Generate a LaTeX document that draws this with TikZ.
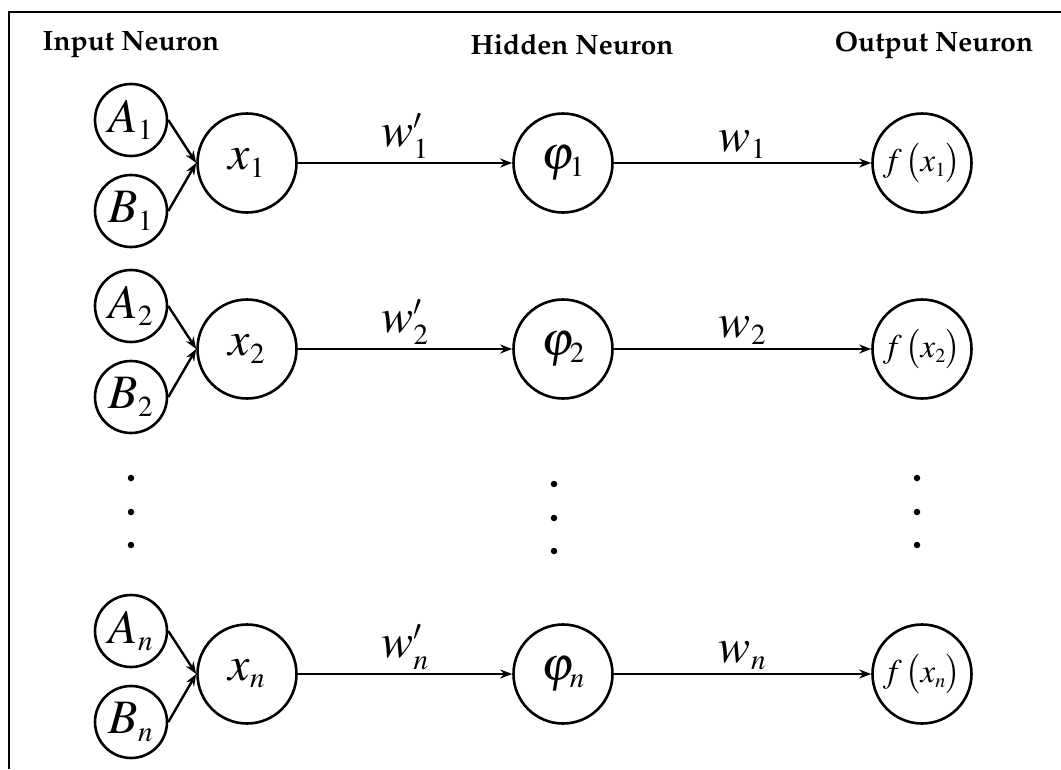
\documentclass[tikz,border=0pt]{standalone}
\usepackage[T1]{fontenc}
\usepackage{mathptmx}
\renewcommand{\rmdefault}{ppl}
\usetikzlibrary{arrows.meta}

% smaller script sizes for the large formula sizes
\DeclareMathSizes{48}{48}{29}{22}
\DeclareMathSizes{33}{33}{20}{15}

\tikzset{
  neuron/.style={circle, draw, line width=2.6pt, inner sep=0pt},
  inneuron/.style={neuron, minimum size=72pt, font=\fontsize{48}{52}\selectfont},
  mainneuron/.style={neuron, minimum size=99pt, font=\fontsize{48}{52}\selectfont},
  outneuron/.style={neuron, minimum size=99pt, font=\fontsize{33}{36}\selectfont},
  link/.style={line width=2.4pt, -{Stealth[length=12pt, width=9pt]}},
  weight/.style={midway, above, inner sep=3pt, font=\fontsize{48}{52}\selectfont},
  heading/.style={font=\fontsize{28}{32}\selectfont\bfseries},
  vdot/.style={circle, fill, inner sep=0pt, minimum size=6.5pt},
  frame/.style={line width=2.6pt}
}

\begin{document}
\begin{tikzpicture}[x=1pt, y=-1pt]
  \useasboundingbox (0,0) rectangle (1061,769);

  % open frame: top and left edges only
  \coordinate (fbl) at (9,769);
  \coordinate (ftr) at (1061,12);
  \draw[frame] (fbl) |- (ftr);

  % column headings
  \node[heading] (hin)  at (131,45) {Input Neuron};
  \node[heading] (hhid) at (572,45) {Hidden Neuron};
  \node[heading] (hout) at (934,45) {Output Neuron};

  % one row per input pair
  \foreach \i/\y in {1/163, 2/349, n/674} {
    \node[inneuron]   (A\i)   at (131,\y-43) {$A_{\i}$};
    \node[inneuron]   (B\i)   at (131,\y+48) {$B_{\i}$};
    \node[mainneuron] (x\i)   at (247,\y)    {$x_{\i}$};
    \node[mainneuron] (phi\i) at (563,\y)    {$\varphi_{\i}$};
    \node[outneuron]  (f\i)   at (922,\y)    {$f\,\bigl(x_{\i}\bigr)$};

    \draw[link] (A\i.east) -- (x\i.west);
    \draw[link] (B\i.east) -- (x\i.west);
    \draw[link] (x\i.east) -- node[weight] {$w^{\prime}_{\i}$} (phi\i.west);
    \draw[link] (phi\i.east) -- node[weight] {$w_{\i}$} (f\i.west);
  }

  % vertical ellipses between row 2 and row n
  \node[vdot] (dl1) at (131,478) {};
  \node[vdot] (dl2) at (131,512) {};
  \node[vdot] (dl3) at (131,545) {};
  \node[vdot] (dm1) at (554,484) {};
  \node[vdot] (dm2) at (554,518) {};
  \node[vdot] (dm3) at (554,551) {};
  \node[vdot] (dr1) at (917,478) {};
  \node[vdot] (dr2) at (917,512) {};
  \node[vdot] (dr3) at (917,545) {};
\end{tikzpicture}
\end{document}
